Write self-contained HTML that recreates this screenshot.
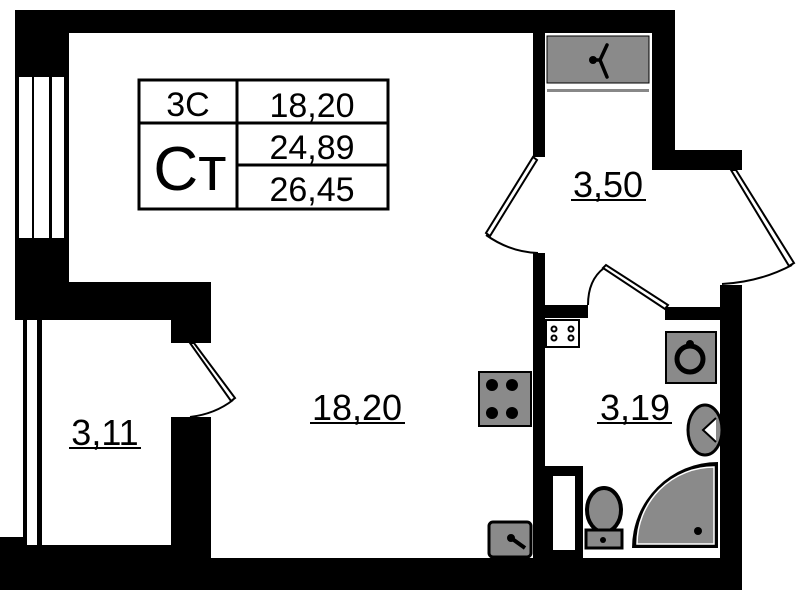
<!DOCTYPE html>
<html><head><meta charset="utf-8"><style>
html,body{margin:0;padding:0;background:#fff;width:799px;height:600px;overflow:hidden}
svg{display:block}
text{font-family:"Liberation Sans",sans-serif;fill:#000}
</style></head><body>
<svg width="799" height="600" viewBox="0 0 799 600" xmlns="http://www.w3.org/2000/svg">
<g fill="#000">
<rect x="15" y="10" width="660" height="23"/>
<rect x="15" y="10" width="54" height="310"/>
<rect x="15" y="282" width="196" height="38"/>
<rect x="171" y="282" width="40" height="61"/>
<rect x="171" y="417" width="40" height="173"/>
<rect x="0" y="537" width="23" height="53"/>
<rect x="23" y="545" width="160" height="45"/>
<rect x="171" y="558" width="571" height="32"/>
<rect x="533" y="10" width="12" height="147"/>
<rect x="652" y="10" width="23" height="160"/>
<rect x="652" y="150" width="90" height="20"/>
<rect x="533" y="253" width="12" height="337"/>
<rect x="545" y="305" width="43" height="13"/>
<rect x="665" y="307" width="55" height="13"/>
<rect x="720" y="285" width="22" height="305"/>
<rect x="545" y="466" width="38" height="92"/>
</g>
<g fill="#fff">
<rect x="19" y="77" width="13" height="161"/>
<rect x="34" y="77" width="15" height="161"/>
<rect x="52" y="77" width="12" height="161"/>
</g>
<rect x="23" y="320" width="19" height="225" fill="#000"/>
<rect x="27" y="320" width="10" height="225" fill="#fff"/>
<rect x="553" y="476" width="22" height="74" fill="#fff"/>
<g fill="none" stroke="#000" stroke-width="2">
<polygon points="533,157 537,160 490,236 486,233" fill="#fff"/>
<path d="M486,235 Q510,252 538,253"/>
<polygon points="731,170 736,170 794,263 789,266" fill="#fff"/>
<path d="M792,265 Q760,282 722,284"/>
<polygon points="190,343 194,343 235,398 231,401" fill="#fff"/>
<path d="M233,400 Q215,414 190,417"/>
<polygon points="603,268 606,265 668,305 665,309" fill="#fff"/>
<path d="M588,305 Q588,280 604,268"/>
</g>
<rect x="547" y="36" width="102" height="47" fill="#8a8a8a" stroke="#000" stroke-width="1"/>
<rect x="547" y="89" width="102" height="3" fill="#888"/>
<path d="M607,45 L600,60 L607,77 M593,60 L600,60" stroke="#000" stroke-width="3.5" fill="none" stroke-linecap="round"/>
<circle cx="593" cy="60" r="4" fill="#000"/>
<g fill="none" stroke="#000" stroke-width="3">
<rect x="139" y="80" width="249" height="129"/>
<line x1="237" y1="80" x2="237" y2="209"/>
<line x1="139" y1="123" x2="388" y2="123"/>
<line x1="237" y1="165" x2="388" y2="165"/>
</g>
<text x="188" y="116" font-size="34" text-anchor="middle">3С</text>
<text x="312" y="117" font-size="34" text-anchor="middle">18,20</text>
<text x="312" y="159" font-size="34" text-anchor="middle">24,89</text>
<text x="312" y="201" font-size="34" text-anchor="middle">26,45</text>
<text x="190" y="190" font-size="62" text-anchor="middle">Ст</text>
<text x="608" y="197" font-size="36" text-anchor="middle">3,50</text>
<line x1="571" y1="200" x2="646" y2="200" stroke="#000" stroke-width="2"/>
<text x="357" y="420" font-size="36" text-anchor="middle">18,20</text>
<line x1="310" y1="423" x2="405" y2="423" stroke="#000" stroke-width="2"/>
<text x="105" y="445" font-size="36" text-anchor="middle">3,11</text>
<line x1="69" y1="448" x2="141" y2="448" stroke="#000" stroke-width="2"/>
<text x="635" y="420" font-size="36" text-anchor="middle">3,19</text>
<line x1="597" y1="423" x2="672" y2="423" stroke="#000" stroke-width="2"/>
<rect x="546" y="320" width="33" height="27" fill="#fff" stroke="#000" stroke-width="2"/>
<g fill="none" stroke="#000" stroke-width="2"><circle cx="554" cy="329" r="2.5"/><circle cx="554" cy="338" r="2.5"/><circle cx="571" cy="329" r="2.5"/><circle cx="571" cy="338" r="2.5"/></g>
<rect x="479" y="372" width="52" height="54" fill="#8a8a8a" stroke="#000" stroke-width="2"/>
<g fill="#000"><circle cx="492" cy="385" r="6"/><circle cx="512" cy="385" r="6"/><circle cx="492" cy="413" r="6"/><circle cx="512" cy="413" r="6"/></g>
<rect x="489" y="522" width="42" height="35" rx="4" fill="#8a8a8a" stroke="#000" stroke-width="3"/>
<path d="M511,538 L525,548" stroke="#000" stroke-width="4"/>
<circle cx="511" cy="538" r="4" fill="#000"/>
<rect x="666" y="332" width="50" height="51" fill="#8a8a8a" stroke="#000" stroke-width="2"/>
<circle cx="690" cy="359" r="13" fill="#8a8a8a" stroke="#000" stroke-width="5"/>
<circle cx="690" cy="344" r="4" fill="#000"/>
<ellipse cx="705" cy="430" rx="17" ry="25" fill="#8a8a8a" stroke="#000" stroke-width="3"/>
<path d="M716,418 L703,430 L716,442" fill="#fff" stroke="#000" stroke-width="2"/>
<ellipse cx="604" cy="510" rx="17" ry="22" fill="#8a8a8a" stroke="#000" stroke-width="4"/>
<rect x="586" y="530" width="36" height="18" fill="#8a8a8a" stroke="#000" stroke-width="3"/>
<circle cx="603" cy="540" r="3" fill="#000"/>
<path d="M718,548 L632,548 A86,86 0 0 1 718,462 Z" fill="#000"/>
<path d="M714,544 L637,544 A77,77 0 0 1 714,467 Z" fill="#8a8a8a" stroke="#fff" stroke-width="1.5"/>
<circle cx="698" cy="531" r="4" fill="#000"/>
</svg>
</body></html>
